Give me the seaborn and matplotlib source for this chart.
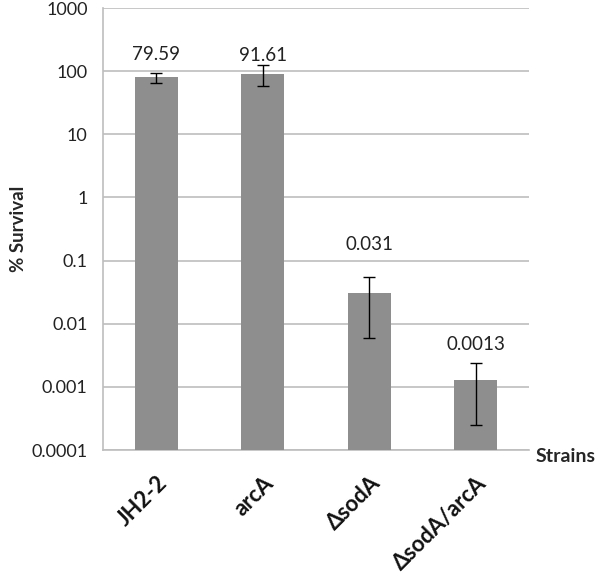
import matplotlib
matplotlib.use("Agg")
import matplotlib.pyplot as plt
import seaborn as sns
import numpy as np

# data
strains = ["JH2-2", "arcA", "ΔsodA", "ΔsodA/arcA"]
survival = [79.59, 91.61, 0.031, 0.0013]
errors = [15, 33, 0.025, 0.00105]
value_labels = ["79.59", "91.61", "0.031", "0.0013"]
yticks = [0.0001, 0.001, 0.01, 0.1, 1, 10, 100, 1000]
ytick_labels = ["0.0001", "0.001", "0.01", "0.1", "1", "10", "100", "1000"]

sns.set_style("white")
plt.rcParams["font.family"] = ["Lato", "DejaVu Sans"]

fig = plt.figure(figsize=(6, 5.77), dpi=100)
ax = fig.add_axes([0.1717, 0.22, 0.71, 0.766])

sns.barplot(x=strains, y=survival, color="#8E8E8E", width=0.4,
            saturation=1, ax=ax, zorder=3, linewidth=0)
ax.set_yscale("log")
ax.set_ylim(0.0001, 1000)
ax.set_xlim(-0.5, len(strains) - 0.5)

ax.errorbar(np.arange(len(strains)), survival, yerr=errors, fmt="none",
            ecolor="black", elinewidth=1, capsize=4, capthick=1, zorder=4)

# label centres sit a bit above the error bar tops (points)
label_offsets = [13, 7, 23, 14]
for i, (v, e, lab) in enumerate(zip(survival, errors, value_labels)):
    ax.annotate(lab, (i, v + e), xytext=(0, label_offsets[i]),
                textcoords="offset points", ha="center", va="center",
                fontsize=13.5, color="#222222")

ax.set_yticks(yticks)
ax.set_yticklabels(ytick_labels)
ax.yaxis.set_minor_locator(matplotlib.ticker.NullLocator())
ax.yaxis.grid(True, color="#BEBEBE", linewidth=1.2, zorder=0)
ax.tick_params(axis="y", length=5, color="#BEBEBE", labelsize=13,
               labelcolor="#222222", pad=6)

# x ticks at category boundaries, labels under bars
ax.set_xticks(np.arange(len(strains)))
ax.set_xticklabels(strains, rotation=45, ha="right", rotation_mode="anchor",
                   fontsize=16, fontweight="bold", color="#111111")
ax.tick_params(axis="x", length=0, pad=16)
ax.set_xticks(np.arange(len(strains) + 1) - 0.5, minor=True)
ax.tick_params(axis="x", which="minor", length=8, color="#BEBEBE", width=1.2)

for side in ["top", "right"]:
    ax.spines[side].set_visible(False)
for side in ["left", "bottom"]:
    ax.spines[side].set_color("#BEBEBE")
    ax.spines[side].set_linewidth(1.2)

ax.set_ylabel("")
ax.set_xlabel("")
fig.text(18 / 600, 1 - 229 / 577, "% Survival", fontsize=13.5,
         fontweight="bold", rotation=90, va="center", ha="center")
fig.text(0.893, 1 - 457 / 577, "Strains", fontsize=14, fontweight="bold",
         va="center", ha="left")

fig.savefig("out.png", dpi=100)
